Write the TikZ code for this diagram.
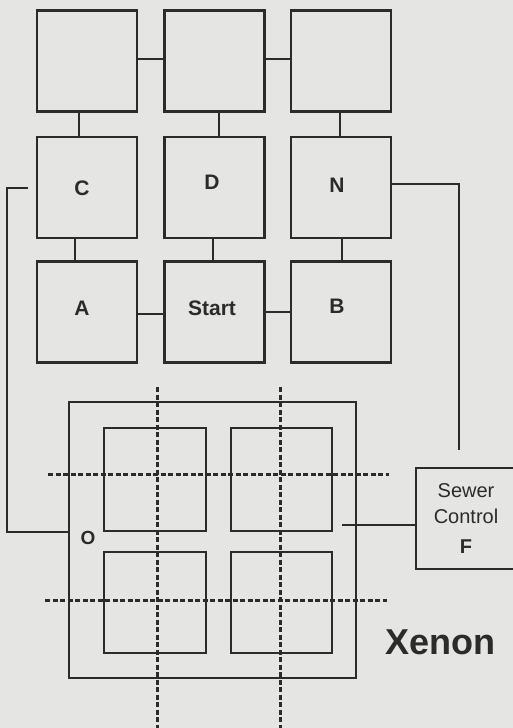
\documentclass[tikz,border=0pt]{standalone}
\usepackage{fontspec}
\setmainfont{Liberation Sans}
\usetikzlibrary{calc}
\definecolor{bg}{HTML}{E5E5E3}
\definecolor{ink}{HTML}{2B2B2B}
\begin{document}
\begin{tikzpicture}[x=1pt,y=-1pt,
  room/.style={draw=ink, line width=2.6pt, inner sep=0pt, minimum width=100pt, minimum height=101pt},
  lab/.style={text=ink, inner sep=0pt, font=\bfseries\fontsize{21}{21}\selectfont},
  wire/.style={draw=ink, line width=2.6pt},
  gridline/.style={draw=ink, line width=3pt, dash pattern=on 5pt off 2.5pt}]
\useasboundingbox[fill=bg] (0,0) rectangle (513,728);
% rooms
\node[room] (t1) at (87,61) {};
\node[room] (t2) at (214.5,61) {};
\node[room] (t3) at (341,61) {};
\node[room] (C) at (87,187.5) {};
\node[room] (D) at (214.5,187.5) {};
\node[room] (N) at (341,187.5) {};
\node[room] (A) at (87,312) {};
\node[room] (S) at (214.5,312) {};
\node[room] (B) at (341,312) {};
\node[lab] (lC) at (82,188) {C};
\node[lab] (lD) at (212,182) {D};
\node[lab] (lN) at (337,185) {N};
\node[lab] (lA) at (82,308) {A};
\node[lab] (lS) at (212,308) {Start};
\node[lab] (lB) at (337,306) {B};
% connectors
\draw[wire] ([yshift=2pt]t1.east) -- ([yshift=2pt]t2.west);
\draw[wire] ([yshift=2pt]t2.east) -- ([yshift=2pt]t3.west);
\draw[wire] ([xshift=-8pt]t1.south) -- ([xshift=-8pt]C.north);
\draw[wire] ([xshift=4.5pt]t2.south) -- ([xshift=4.5pt]D.north);
\draw[wire] ([xshift=-1pt]t3.south) -- ([xshift=-1pt]N.north);
\draw[wire] ([xshift=-12pt]C.south) -- ([xshift=-12pt]A.north);
\draw[wire] ([xshift=-1.5pt]D.south) -- ([xshift=-1.5pt]S.north);
\draw[wire] ([xshift=1pt]N.south) -- ([xshift=1pt]B.north);
\draw[wire] ([yshift=-2pt]A.east) -- ([yshift=-2pt]S.west);
\draw[wire] (S.east) -- (B.west);
% Xenon
\node[room, minimum width=287pt, minimum height=276pt] (X) at (212.5,540) {};
\node[room, minimum width=102pt, minimum height=103pt] (i1) at (155,479.5) {};
\node[room, minimum width=101pt, minimum height=103pt] (i2) at (281.5,479.5) {};
\node[room, minimum width=102pt, minimum height=101pt] (i3) at (155,602.5) {};
\node[room, minimum width=101pt, minimum height=101pt] (i4) at (281.5,602.5) {};
\draw[gridline] (157,387) -- (157,728);
\draw[gridline] (280,387) -- (280,728);
\draw[gridline] (48,474) -- (389,474);
\draw[gridline] (45,600) -- (387,600);
\node[lab, font=\bfseries\fontsize{19}{19}\selectfont] (lO) at (88,538) {O};
\node[lab, font=\bfseries\fontsize{36}{36}\selectfont] (lX) at (440,642) {Xenon};
% Sewer control
\node[room, minimum width=100pt, minimum height=101pt, align=center, text=ink,
  font=\fontsize{20}{26}\selectfont] (F) at (466,518.5) {Sewer\\Control\\[4pt]\textbf{F}};
% wires
\coordinate (cw) at (28,188);
\draw[wire] (cw) -- (7,188) |- (X.west |- 0,532);
\coordinate (nf) at (459,450);
\draw[wire] (N.east |- 0,184) -| (nf);
\coordinate (xo) at (342,525);
\draw[wire] (xo) -- (F.west |- xo);
\end{tikzpicture}
\end{document}
